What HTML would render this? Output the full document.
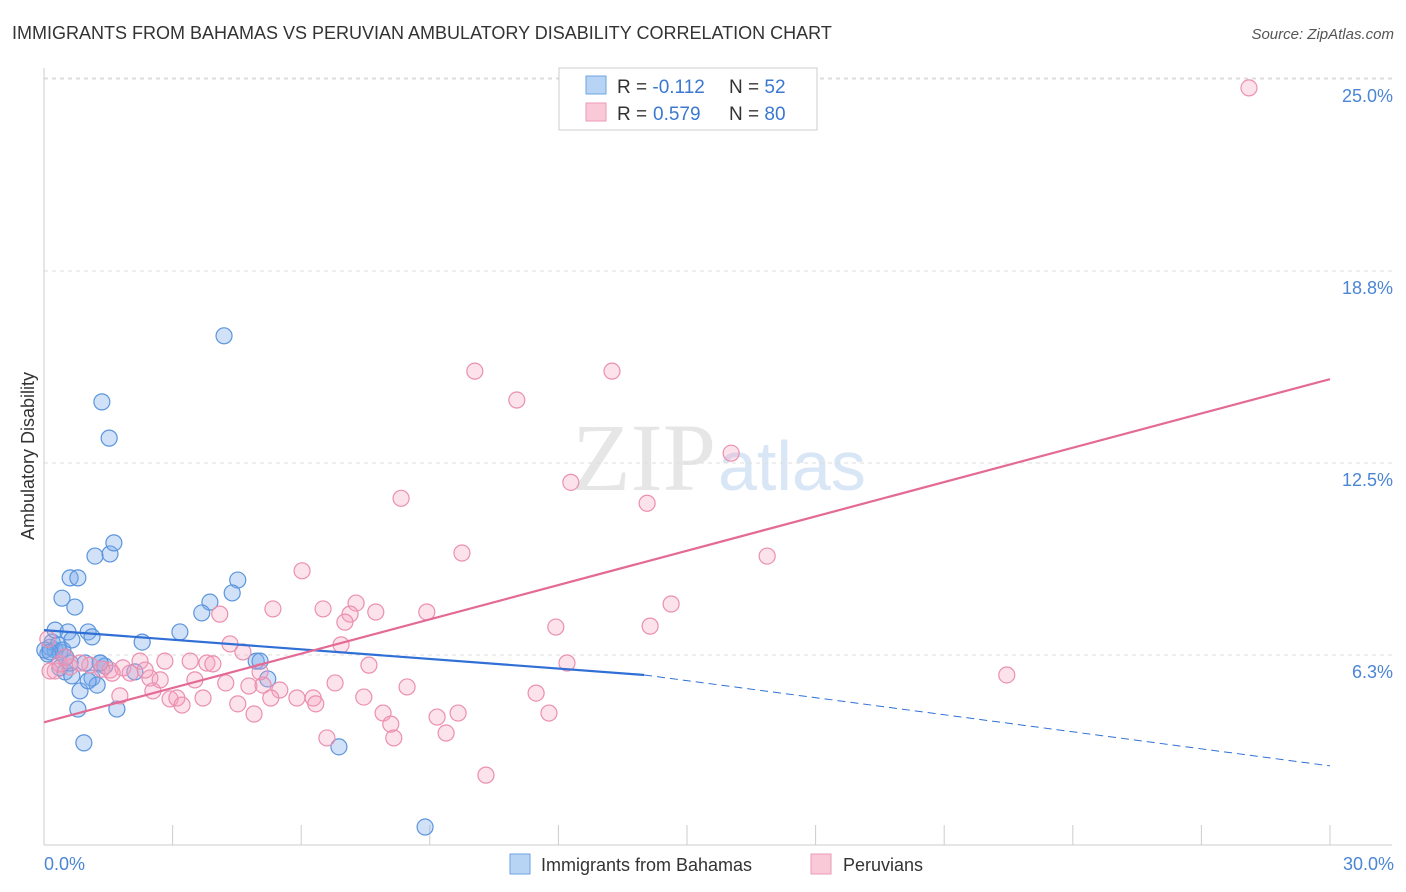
<!DOCTYPE html>
<html><head><meta charset="utf-8"><style>
body{margin:0;background:#fff;font-family:"Liberation Sans",sans-serif;}
svg{display:block}
</style></head><body>
<svg width="1406" height="892" xmlns="http://www.w3.org/2000/svg" font-family="Liberation Sans, sans-serif">
<text x="12" y="39" font-size="18" fill="#333">IMMIGRANTS FROM BAHAMAS VS PERUVIAN AMBULATORY DISABILITY CORRELATION CHART</text>
<text x="1394" y="39" font-size="15" fill="#555" text-anchor="end" font-style="italic">Source: ZipAtlas.com</text>
<text x="716" y="490" font-size="96" fill="#e6e6e6" text-anchor="end" font-family="Liberation Serif, serif">ZIP</text>
<text x="718" y="490" font-size="70" fill="#d8e6f6">atlas</text>
<g id="grid"></g>
<g id="axes"></g>
<g id="marks"></g>
<text transform="translate(34,456) rotate(-90)" font-size="18" fill="#333" text-anchor="middle">Ambulatory Disability</text>
<text x="44" y="870" font-size="18" fill="#4a86d4">0.0%</text>
<text x="1394" y="870" font-size="18" fill="#4a86d4" text-anchor="end">30.0%</text>
<g>
<rect x="559" y="68" width="258" height="62" fill="#fff" stroke="#ccc"/>
<rect x="586" y="76" width="20" height="18" fill="#b8d4f4" stroke="#6fa3e0"/>
<rect x="586" y="103" width="20" height="18" fill="#f9c9d8" stroke="#eb9ab6"/>
<text x="617" y="93" font-size="19" fill="#333">R = <tspan fill="#3b78d0">-0.112</tspan></text>
<text x="729" y="93" font-size="19" fill="#333">N = <tspan fill="#3b78d0">52</tspan></text>
<text x="617" y="120" font-size="19" fill="#333">R = <tspan fill="#3b78d0" x="653">0.579</tspan></text>
<text x="729" y="120" font-size="19" fill="#333">N = <tspan fill="#3b78d0">80</tspan></text>
</g>
<g>
<rect x="510" y="854" width="20" height="20" fill="#b8d4f4" stroke="#6fa3e0"/>
<text x="541" y="871" font-size="18" fill="#333">Immigrants from Bahamas</text>
<rect x="811" y="854" width="20" height="20" fill="#f9c9d8" stroke="#eb9ab6"/>
<text x="843" y="871" font-size="18" fill="#333">Peruvians</text>
</g>
</svg>
<script>
const yTicks=[6.25,12.5,18.75,25];
const yTickLabels=["6.3%","12.5%","18.8%","25.0%"];
const blueX=[0.14,0.26,0.37,0.19,0.33,0.44,0.09,0.26,0.56,0.65,1.03,1.12,0.42,0.72,0.61,0.79,1.19,1.54,1.63,1.35,1.52,4.2,3.87,3.68,4.52,4.39,3.17,2.29,0.96,1.31,1.42,0.37,0.49,0.65,1.12,1.24,2.12,0.84,0.79,1.70,0.93,4.95,5.04,5.22,6.88,8.89,0.61,0.02,0.14,0.51,1.03,1.31];
const blueY=[6.5,6.41,6.35,6.67,6.58,6.41,6.28,7.06,7.0,6.74,7.0,6.84,8.1,7.81,8.76,8.76,9.47,9.54,9.9,14.49,13.31,16.64,7.97,7.62,8.69,8.27,7.0,6.67,5.99,5.99,5.89,5.83,5.7,5.57,5.5,5.27,5.7,5.08,4.49,4.49,3.39,6.05,6.05,5.47,3.26,0.65,5.99,6.41,6.35,6.18,5.41,5.99];
const pinkX=[28.11,10.05,13.25,11.03,16.03,12.29,8.33,14.07,9.75,16.87,6.02,7.28,14.63,5.34,6.51,7.14,7.74,8.93,4.1,7.02,11.94,14.14,4.34,4.64,6.93,12.2,7.58,22.46,2.24,2.82,3.41,3.8,3.94,1.54,1.84,2.01,2.47,2.71,3.52,4.24,4.78,5.11,5.5,6.79,8.47,11.48,1.77,2.54,2.94,3.1,3.22,3.71,4.52,4.9,5.29,5.9,6.28,6.34,7.46,7.91,8.09,8.16,9.17,9.38,9.66,11.78,6.6,10.31,0.26,0.37,0.61,0.09,1.07,1.35,0.49,0.84,0.14,1.59,2.36,5.04];
const pinkY=[24.71,15.49,15.49,14.55,12.82,11.87,11.35,11.19,9.57,9.47,8.99,7.94,7.91,7.75,7.75,7.58,7.65,7.65,7.58,7.32,7.16,7.19,6.61,6.35,6.58,5.99,5.92,5.6,6.05,6.05,6.05,5.99,5.96,5.76,5.83,5.66,5.5,5.44,5.44,5.34,5.24,5.27,5.11,5.34,5.21,5.01,4.92,5.08,4.82,4.85,4.62,4.85,4.66,4.33,4.85,4.85,4.85,4.66,4.88,4.36,4.0,3.55,4.23,3.71,4.36,4.36,3.55,2.34,5.73,5.96,5.86,6.77,5.92,5.79,6.18,5.99,5.73,5.66,5.76,5.7];
const blueTrend=[[0,7.06],[14,5.6],[30,2.64]];
const pinkTrend=[[0,4.06],[30,15.23]];
const NS="http://www.w3.org/2000/svg";
const X=v=>44+v*(1286/30), Y=v=>847-v*(192/6.25);
function mk(t,a,p){const e=document.createElementNS(NS,t);for(const k in a)e.setAttribute(k,a[k]);p.appendChild(e);return e;}
const gGrid=document.getElementById('grid'),gAx=document.getElementById('axes'),gM=document.getElementById('marks');
yTicks.forEach((t,i)=>{
 const l=mk('line',{x1:44,x2:1392,y1:Y(t),y2:Y(t),stroke:'#ddd','stroke-dasharray':'4,4'},gGrid);
 
 
 const tx=mk('text',{x:1393,y:Y(t)+23,'font-size':18,fill:'#4a86d4','text-anchor':'end'},gAx);
 tx.textContent=yTickLabels[i];
 
 
});
const topLine=mk('line',{x1:44,x2:1392,y1:78,y2:78,stroke:'#ddd','stroke-dasharray':'4,4'},gGrid);


const yl=mk('line',{x1:44,x2:44,y1:68,y2:845,stroke:'#ccc'},gAx);


const xl=mk('line',{x1:44,x2:1392,y1:845,y2:845,stroke:'#ccc'},gAx);


for(let i=0;i<=10;i++){const t=mk('line',{x1:X(i*3),x2:X(i*3),y1:825,y2:845,stroke:'#ccc'},gAx);
 
 }
blueX.forEach((v,i)=>{const c=mk('circle',{cx:X(v),cy:Y(blueY[i]),r:8,fill:'rgba(120,170,235,0.35)',stroke:'#5b95dc','stroke-width':1.2},gM);
 
 });
pinkX.forEach((v,i)=>{const c=mk('circle',{cx:X(v),cy:Y(pinkY[i]),r:8,fill:'rgba(245,160,190,0.3)',stroke:'#eb8fb0','stroke-width':1.2},gM);
 
 });
const b1=mk('line',{x1:X(blueTrend[0][0]),y1:Y(blueTrend[0][1]),x2:X(blueTrend[1][0]),y2:Y(blueTrend[1][1]),stroke:'#2f6fd6','stroke-width':2.2},gM);


const b2=mk('line',{x1:X(blueTrend[1][0]),y1:Y(blueTrend[1][1]),x2:X(blueTrend[2][0]),y2:Y(blueTrend[2][1]),stroke:'#2f6fd6','stroke-width':1,'stroke-dasharray':'8,5'},gM);


const p1=mk('line',{x1:X(pinkTrend[0][0]),y1:Y(pinkTrend[0][1]),x2:X(pinkTrend[1][0]),y2:Y(pinkTrend[1][1]),stroke:'#e46a96','stroke-width':2.2},gM);


</script>
</body></html>
